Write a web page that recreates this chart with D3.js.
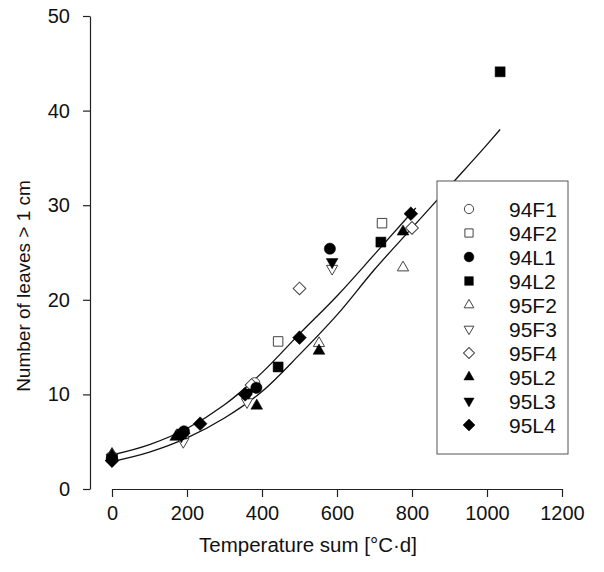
<!DOCTYPE html>
<html>
<head>
<meta charset="utf-8">
<script src="https://cdn.jsdelivr.net/npm/d3@7"></script>
<style>
  html, body { margin: 0; padding: 0; background: #fff; }
  svg { display: block; }
  text { font-family: "Liberation Sans", Arial, sans-serif; fill: #111; }
</style>
</head>
<body>
<svg id="chart" width="604" height="572"></svg>
<script>
// ---- data ----
const xTicks = [0, 200, 400, 600, 800, 1000, 1200];
const yTicks = [0, 10, 20, 30, 40, 50];

const seriesNames = ["94F1", "94F2", "94L1", "94L2", "95F2", "95F3", "95F4", "95L2", "95L3", "95L4"];

const s94F1 = [[0, 3.4], [380, 11.2]];
const s94F2 = [[0, 3.3], [190, 5.8], [443, 15.6], [720, 28.1]];
const s94L1 = [[0, 3.2], [192, 6.1], [385, 10.7], [581, 25.4]];
const s94L2 = [[185, 5.8], [443, 12.9], [717, 26.1], [1035, 44.1]];
const s95F2 = [[0, 3.7], [180, 5.6], [552, 15.4], [776, 23.4]];
const s95F3 = [[190, 5.0], [360, 9.2], [587, 23.3]];
const s95F4 = [[0, 3.0], [372, 11.0], [500, 21.2], [800, 27.6]];
const s95L2 = [[0, 3.6], [170, 5.5], [386, 8.8], [552, 14.6], [776, 27.2]];
const s95L3 = [[0, 3.3], [185, 5.6], [365, 10.2], [587, 24.0]];
const s95L4 = [[0, 3.0], [190, 5.9], [235, 6.9], [355, 10.0], [500, 16.0], [797, 29.1]];

// fitted curves
const curveUpperX = [0, 100, 200, 300, 400, 500, 600, 700, 810];
const curveUpperY = [3.6, 4.7, 6.4, 8.9, 12.3, 16.4, 20.4, 24.8, 29.7];
const curveLowerX = [0, 100, 200, 300, 400, 500, 600, 700, 800, 900, 1000, 1035];
const curveLowerY = [2.9, 3.9, 5.4, 7.5, 10.3, 14.2, 18.4, 23.2, 27.6, 32.0, 36.4, 38.0];

const xLabel = "Temperature sum [°C·d]";
const yLabel = "Number of leaves > 1 cm";

// ---- drawing ----
const svg = d3.select("#chart");
const x = d3.scaleLinear().domain([0, 1200]).range([112, 562]);
const y = d3.scaleLinear().domain([0, 50]).range([489, 16]);

// axes
const gx = svg.append("g").attr("transform", `translate(0,${y(0)})`)
  .call(d3.axisBottom(x).tickValues(xTicks).tickFormat(d3.format("d")).tickSize(8).tickSizeOuter(0).tickPadding(9));
const gy = svg.append("g").attr("transform", "translate(90,0)")
  .call(d3.axisLeft(y).tickValues(yTicks).tickFormat(d3.format("d")).tickSize(7).tickSizeOuter(0).tickPadding(13));
[gx, gy].forEach(g => {
  g.select(".domain").attr("stroke", "#222").attr("stroke-width", 1.2);
  g.selectAll(".tick line").attr("stroke", "#222").attr("stroke-width", 1.2);
  g.selectAll(".tick text").attr("font-size", 20).attr("font-family", "Liberation Sans, Arial, sans-serif").attr("fill", "#111");
});

svg.append("text").attr("x", 308).attr("y", 552).attr("text-anchor", "middle")
  .attr("font-size", 20.5).text(xLabel);
svg.append("text").attr("transform", "translate(30,286) rotate(-90)").attr("text-anchor", "middle")
  .attr("font-size", 19).text(yLabel);

// curves
const line = d3.line().x(d => x(d[0])).y(d => y(d[1])).curve(d3.curveMonotoneX);
const upper = d3.zip(curveUpperX, curveUpperY);
const lower = d3.zip(curveLowerX, curveLowerY);
[upper, lower].forEach(c => {
  svg.append("path").attr("d", line(c)).attr("fill", "none").attr("stroke", "#111").attr("stroke-width", 1.3);
});

// marker definitions
const markers = {
  "94F1": { type: d3.symbolCircle, size: 90, rot: 0, fill: false },
  "94F2": { type: d3.symbolSquare, size: 90, rot: 0, fill: false },
  "94L1": { type: d3.symbolCircle, size: 100, rot: 0, fill: true },
  "94L2": { type: d3.symbolSquare, size: 100, rot: 0, fill: true },
  "95F2": { type: d3.symbolTriangle, size: 55, rot: 0, fill: false },
  "95F3": { type: d3.symbolTriangle, size: 55, rot: 180, fill: false },
  "95F4": { type: d3.symbolSquare, size: 80, rot: 45, fill: false },
  "95L2": { type: d3.symbolTriangle, size: 60, rot: 0, fill: true },
  "95L3": { type: d3.symbolTriangle, size: 60, rot: 180, fill: true },
  "95L4": { type: d3.symbolSquare, size: 95, rot: 45, fill: true }
};
const seriesData = {
  "94F1": s94F1, "94F2": s94F2, "94L1": s94L1, "94L2": s94L2, "95F2": s95F2,
  "95F3": s95F3, "95F4": s95F4, "95L2": s95L2, "95L3": s95L3, "95L4": s95L4
};

function drawMarker(g, name, cx, cy, scale) {
  const m = markers[name];
  g.append("path")
    .attr("d", d3.symbol().type(m.type).size(m.size * scale)())
    .attr("transform", `translate(${cx},${cy}) rotate(${m.rot})`)
    .attr("fill", m.fill ? "#000" : "#fff")
    .attr("stroke", m.fill ? "#000" : "#444")
    .attr("stroke-width", m.fill ? 0.5 : 1);
}

const pts = svg.append("g");
// open markers first, filled on top
const order = ["94F1", "94F2", "95F2", "95F3", "95F4", "94L2", "94L1", "95L2", "95L3", "95L4"];
order.forEach(name => {
  seriesData[name].forEach(d => drawMarker(pts, name, x(d[0]), y(d[1]), 1));
});

// legend
const lg = svg.append("g");
lg.append("rect").attr("x", 437).attr("y", 181).attr("width", 131).attr("height", 273)
  .attr("fill", "#fff").attr("stroke", "#555").attr("stroke-width", 1);
seriesNames.forEach((name, i) => {
  const cy = 209 + i * 24;
  drawMarker(lg, name, 469, cy, 0.75);
  lg.append("text").attr("x", 509).attr("y", cy).attr("dy", "0.36em")
    .attr("font-size", 21).text(name);
});
</script>
</body>
</html>
